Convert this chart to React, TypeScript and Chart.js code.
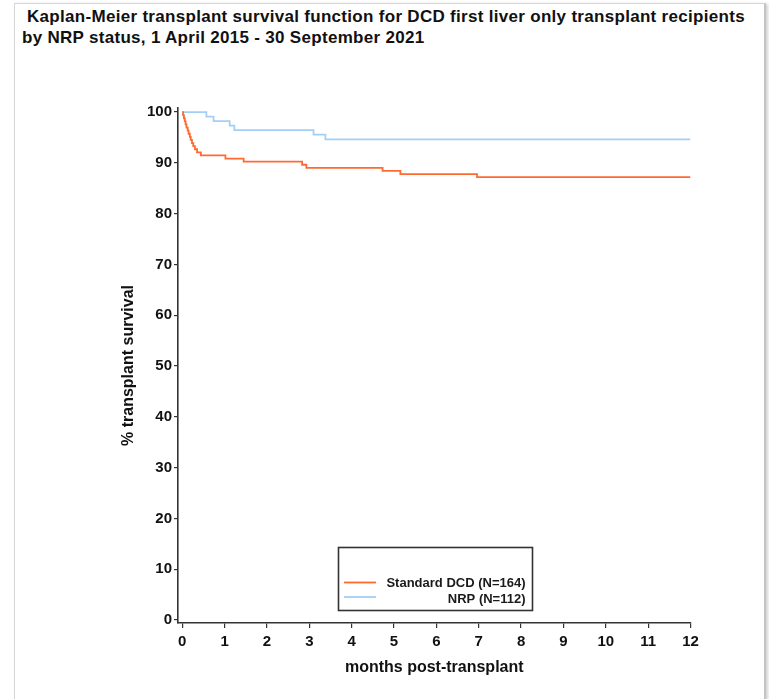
import React, { useEffect, useRef } from "react";
import { Chart, registerables } from "chart.js";

Chart.register(...registerables);

const titleLines = [
  " Kaplan-Meier transplant survival function for DCD first liver only transplant recipients",
  "by NRP status, 1 April 2015 - 30 September 2021",
];
const xAxisTitle = "months post-transplant";
const yAxisTitle = "% transplant survival";
const xTicks = [0, 1, 2, 3, 4, 5, 6, 7, 8, 9, 10, 11, 12];
const yTicks = [0, 10, 20, 30, 40, 50, 60, 70, 80, 90, 100];
const seriesLabels = ["Standard DCD (N=164)", "NRP (N=112)"];
const seriesColors = ["#ff6a30", "#a3cff7"];

// Standard DCD: event times (months) and survival (%) after each event
const standardMonths = [
  0, 0.02, 0.04, 0.06, 0.08, 0.1, 0.13, 0.15, 0.18, 0.2, 0.23, 0.26, 0.3, 0.35,
  0.44, 1.02, 1.45, 2.83, 2.93, 4.73, 5.15, 6.96, 12,
];
const standardSurvival = [
  100, 99.39, 98.78, 98.17, 97.56, 96.95, 96.34, 95.73, 95.12, 94.51, 93.9,
  93.29, 92.68, 92.07, 91.46, 90.85, 90.24, 89.63, 89.02, 88.41, 87.8, 87.2,
  87.2,
];

// NRP
const nrpMonths = [0, 0.57, 0.74, 1.12, 1.23, 3.1, 3.38, 12];
const nrpSurvival = [100, 99.11, 98.21, 97.32, 96.43, 95.54, 94.64, 94.64];

const FONT = "'Liberation Sans', Arial, Helvetica, sans-serif";

const legendPlugin = {
  id: "boxLegend",
  afterDraw(chart: any) {
    const ctx = chart.ctx;
    const left = 338.5;
    const top = 547.5;
    const w = 194;
    const h = 63;
    ctx.save();
    ctx.strokeStyle = "#333";
    ctx.lineWidth = 1.6;
    ctx.strokeRect(left, top, w, h);
    ctx.font = `bold 13px ${FONT}`;
    ctx.textAlign = "right";
    ctx.textBaseline = "middle";
    const rows = [583.5, 599.5];
    const lineYs = [582.5, 597];
    chart.data.datasets.forEach((ds: any, i: number) => {
      ctx.strokeStyle = ds.borderColor;
      ctx.lineWidth = 1.8;
      ctx.beginPath();
      ctx.moveTo(344, lineYs[i]);
      ctx.lineTo(376, lineYs[i]);
      ctx.stroke();
      ctx.fillStyle = "#1a1a1a";
      ctx.fillText(ds.label, 525.5, rows[i]);
    });
    ctx.restore();
  },
};

export default function App() {
  const ref = useRef<HTMLCanvasElement | null>(null);

  useEffect(() => {
    if (!ref.current) return;
    const chart = new Chart(ref.current, {
      type: "line",
      data: {
        datasets: [
          {
            label: seriesLabels[0],
            data: standardMonths.map((m, i) => ({ x: m, y: standardSurvival[i] })),
            borderColor: seriesColors[0],
            borderWidth: 1.8,
            pointRadius: 0,
            stepped: true,
            fill: false,
          },
          {
            label: seriesLabels[1],
            data: nrpMonths.map((m, i) => ({ x: m, y: nrpSurvival[i] })),
            borderColor: seriesColors[1],
            borderWidth: 1.8,
            pointRadius: 0,
            stepped: true,
            fill: false,
          },
        ],
      },
      options: {
        animation: false,
        responsive: false,
        maintainAspectRatio: false,
        layout: { padding: { left: 0, top: 108, right: 78.5, bottom: 0 } },
        plugins: {
          legend: { display: false },
          tooltip: { enabled: false },
          title: { display: false },
        },
        scales: {
          x: {
            type: "linear",
            min: -0.1,
            max: 12,
            afterFit: (s: any) => {
              s.height = 76;
            },
            afterBuildTicks: (s: any) => {
              s.ticks = xTicks.map((v) => ({ value: v }));
            },
            border: { display: true, color: "#333", width: 1.6 },
            grid: {
              display: true,
              drawOnChartArea: false,
              drawTicks: true,
              tickLength: 5,
              color: "#333",
              lineWidth: 1.2,
            },
            ticks: {
              autoSkip: false,
              maxRotation: 0,
              padding: 5,
              color: "#111",
              font: { family: FONT, size: 15, weight: "bold" },
            },
            title: {
              display: true,
              text: xAxisTitle,
              color: "#111",
              font: { family: FONT, size: 16, weight: "bold" },
              padding: { top: 0, bottom: 22 },
            },
          },
          y: {
            type: "linear",
            min: -0.6,
            max: 100.8,
            afterFit: (s: any) => {
              s.width = 178;
            },
            afterBuildTicks: (s: any) => {
              s.ticks = yTicks.map((v) => ({ value: v }));
            },
            border: { display: true, color: "#333", width: 1.6 },
            grid: {
              display: true,
              drawOnChartArea: false,
              drawTicks: true,
              tickLength: 4,
              color: "#333",
              lineWidth: 1.2,
            },
            ticks: {
              autoSkip: false,
              padding: 2,
              color: "#111",
              font: { family: FONT, size: 15, weight: "bold" },
            },
            title: {
              display: true,
              text: yAxisTitle,
              color: "#111",
              font: { family: FONT, size: 16, weight: "bold" },
              padding: { top: 119, bottom: 0 },
            },
          },
        },
      } as any,
      plugins: [legendPlugin],
    });
    return () => chart.destroy();
  }, []);

  return (
    <div
      style={{
        position: "fixed",
        left: 0,
        top: 0,
        width: 769,
        height: 699,
        overflow: "hidden",
        background: "#fff",
      }}
    >
      <div
        style={{
          position: "absolute",
          left: 14,
          top: 3,
          width: 749,
          height: 720,
          border: "1px solid #d6d6d6",
          borderRight: "2px solid #c4c4c4",
          boxShadow: "2px 1px 3px rgba(0,0,0,0.18)",
          background: "#fff",
        }}
      />
      <div
        style={{
          position: "absolute",
          left: 22,
          top: 6,
          fontFamily: FONT,
          fontWeight: "bold",
          fontSize: 17,
          letterSpacing: "0.3px",
          lineHeight: "21px",
          whiteSpace: "pre",
          color: "#111",
        }}
      >
        {titleLines.map((t, i) => (
          <div key={i}>{t}</div>
        ))}
      </div>
      <canvas
        ref={ref}
        width={769}
        height={699}
        style={{ position: "absolute", left: 0, top: 0, width: 769, height: 699 }}
      />
    </div>
  );
}
